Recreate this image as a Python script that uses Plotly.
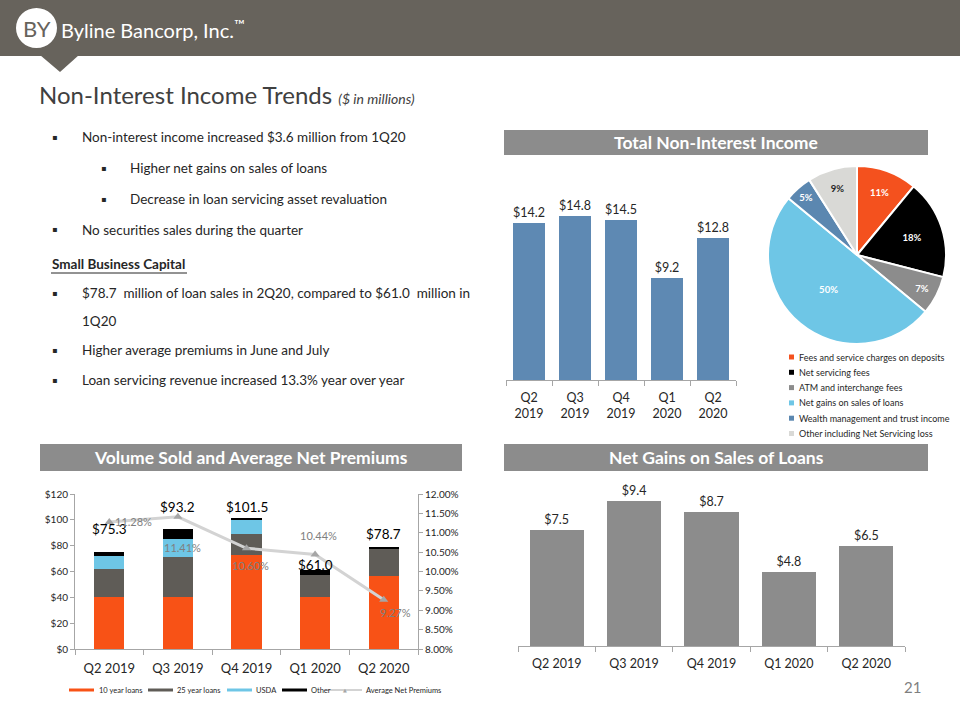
import plotly.graph_objects as go

# ---------------- data ----------------
quarters_stacked = ["Q2<br>2019", "Q3<br>2019", "Q4<br>2019", "Q1<br>2020", "Q2<br>2020"]
quarters = ["Q2 2019", "Q3 2019", "Q4 2019", "Q1 2020", "Q2 2020"]

total_nii = [14.2, 14.8, 14.5, 9.2, 12.8]

pie_labels = ["Fees and service charges on deposits", "Net servicing fees",
              "ATM and interchange fees", "Net gains on sales of loans",
              "Wealth management and trust income", "Other including Net Servicing loss"]
pie_values = [11, 18, 7, 50, 5, 9]

loans_10yr = [40.0, 40.0, 72.9, 40.0, 56.6]
loans_25yr = [21.8, 31.0, 16.3, 17.3, 21.0]
usda = [10.3, 14.5, 10.5, 0.0, 0.0]
other = [3.2, 7.7, 1.8, 3.7, 1.1]
volume_totals = [75.3, 93.2, 101.5, 61.0, 78.7]
avg_premiums = [11.28, 11.41, 10.60, 10.44, 9.27]

net_gains = [7.5, 9.4, 8.7, 4.8, 6.5]

bullets = [
    (1, "Non-interest income increased $3.6 million from 1Q20"),
    (2, "Higher net gains on sales of loans"),
    (2, "Decrease in loan servicing asset revaluation"),
    (1, "No securities sales during the quarter"),
]
sbc_bullets = [
    "$78.7  million of loan sales in 2Q20, compared to $61.0  million in",
    "Higher average premiums in June and July",
    "Loan servicing revenue increased 13.3% year over year",
]

# ---------------- styles ----------------
W, H = 960, 720
FONT = "Lato, 'Open Sans', sans-serif"
TXT = "#262626"
HEADER = "#67635C"
SEC = "#8C8C8C"
ORANGE = "#F85216"
DARKGRAY = "#5F5C57"
LIGHTBLUE = "#6EC6E6"
STEEL = "#5B87B0"


def px(x):
    return x / W


def py(y):
    return 1 - y / H


fig = go.Figure()

# ---- Total non-interest income bars ----
fig.add_trace(go.Bar(
    x=quarters_stacked, y=total_nii, marker_color="#5E89B3",
    text=["$%.1f" % v for v in total_nii], textposition="outside",
    textfont=dict(size=12.5, color=TXT, family=FONT), cliponaxis=False,
    xaxis="x", yaxis="y", showlegend=False))

# ---- Pie ----
pie_colors = ["#F4511E", "#000000", "#8C8C8C", LIGHTBLUE, STEEL, "#D9D9D6"]
pie_text_colors = ["white", "white", "white", "white", "white", "#262626"]
fig.add_trace(go.Pie(
    labels=pie_labels, values=pie_values, sort=False, direction="clockwise",
    rotation=0, marker=dict(colors=pie_colors, line=dict(color="white", width=2)),
    texttemplate="<b>%{value}%</b>", textposition="inside", insidetextorientation="horizontal",
    textfont=dict(size=9.5, color=pie_text_colors, family=FONT),
    domain=dict(x=[px(768), px(946)], y=[py(344), py(166)]),
    showlegend=False))

# ---- Volume sold stacked bars ----
vol_series = [("10 year loans", loans_10yr, ORANGE), ("25 year loans", loans_25yr, DARKGRAY),
              ("USDA", usda, LIGHTBLUE), ("Other", other, "#000000")]
for name, vals, col in vol_series:
    fig.add_trace(go.Bar(x=quarters, y=vals, name=name, marker_color=col, width=0.44,
                         xaxis="x2", yaxis="y2", showlegend=False))

fig.add_trace(go.Scatter(
    x=quarters, y=avg_premiums, name="Average Net Premiums", mode="lines+markers",
    line=dict(color="#D3D3D3", width=3),
    marker=dict(symbol="triangle-up", size=8, color="#A6A6A6"),
    xaxis="x2", yaxis="y3", showlegend=False))

# ---- Net gains bars ----
fig.add_trace(go.Bar(
    x=quarters, y=net_gains, marker_color="#8C8C8C",
    text=["$%.1f" % v for v in net_gains], textposition="outside",
    textfont=dict(size=12.5, color=TXT, family=FONT), cliponaxis=False,
    xaxis="x4", yaxis="y4", showlegend=False))

axis_line = "#A6A6A6"
cat_axis = dict(type="category", showline=True, linecolor=axis_line, ticks="outside",
                tickson="boundaries", ticklen=5, tickcolor=axis_line, showgrid=False,
                zeroline=False, automargin=False,
                tickfont=dict(size=12.5, color=TXT, family=FONT), fixedrange=True)

fig.update_layout(
    template="none",
    width=W, height=H, autosize=False,
    margin=dict(l=0, r=0, t=0, b=0, pad=0),
    paper_bgcolor="white", plot_bgcolor="rgba(0,0,0,0)",
    font=dict(family=FONT, color=TXT),
    showlegend=False,
    barmode="stack", bargap=0.3,
    xaxis=dict(cat_axis, domain=[px(506), px(736)], anchor="y", ticklabelstandoff=6),
    yaxis=dict(domain=[py(380), py(203)], range=[0, 16], visible=False, anchor="x",
               automargin=False),
    xaxis2=dict(cat_axis, domain=[px(75), px(418)], anchor="y2", ticklabelstandoff=7,
                tickfont=dict(size=13, color=TXT, family=FONT)),
    yaxis2=dict(domain=[py(649), py(494)], range=[0, 120], dtick=20, tickprefix="$",
                showline=True, linecolor=axis_line, ticks="outside", ticklen=4,
                tickcolor=axis_line, showgrid=False, zeroline=False, automargin=False,
                tickfont=dict(size=10, color=TXT, family=FONT), anchor="x2"),
    yaxis3=dict(domain=[py(649), py(494)], range=[8, 12], dtick=0.5, tickformat=".2f",
                ticksuffix="%", overlaying="y2", side="right", anchor="x2",
                showline=True, linecolor=axis_line, ticks="outside", ticklen=4,
                tickcolor=axis_line, showgrid=False, zeroline=False, automargin=False,
                tickfont=dict(size=10, color=TXT, family=FONT)),
    xaxis4=dict(cat_axis, domain=[px(518), px(905)], anchor="y4", ticklabelstandoff=6),
    yaxis4=dict(domain=[py(646), py(484)], range=[0, 10.5], visible=False, anchor="x4",
                automargin=False),
)

shapes = []
annotations = []


def ann(text, x, y, size, color=TXT, xanchor="left", **kw):
    d = dict(text=text, x=px(x), y=py(y), xref="paper", yref="paper", xanchor=xanchor,
             yanchor=kw.pop("yanchor", "middle"), showarrow=False,
             font=dict(size=size, color=color, family=kw.pop("family", FONT)))
    d.update(kw)
    annotations.append(d)


# header band + pointer
shapes.append(dict(type="rect", xref="paper", yref="paper", x0=0, x1=1, y0=py(56), y1=1,
                   fillcolor=HEADER, line=dict(width=0), layer="below"))
shapes.append(dict(type="path", xref="paper", yref="paper",
                   path="M%f,%f L%f,%f L%f,%f Z" % (px(40), py(55), px(79), py(55), px(60), py(72)),
                   fillcolor=HEADER, line=dict(width=0)))
# logo circle
shapes.append(dict(type="circle", xref="paper", yref="paper", x0=px(16), x1=px(57),
                   y0=py(48), y1=py(8), fillcolor="white", line=dict(width=0)))
ann("BY", 36.5, 28.5, 22, HEADER, xanchor="center")
ann("Byline Bancorp, Inc.<sup>™</sup>", 59, 29, 20, "white")

# title
ann("Non-Interest Income Trends <i><span style='font-size:14px'>($ in millions)</span></i>",
    37, 95, 24, "#404040")

# section headers
for (x0, x1, y0, y1, label) in [(504, 928, 130, 155, "Total Non-Interest Income"),
                                (40, 462, 444, 471, "Volume Sold and Average Net Premiums"),
                                (504, 928, 444, 471, "Net Gains on Sales of Loans")]:
    shapes.append(dict(type="rect", xref="paper", yref="paper", x0=px(x0), x1=px(x1),
                       y0=py(y1), y1=py(y0), fillcolor=SEC, line=dict(width=0)))
    ann("<b>%s</b>" % label, (x0 + x1) / 2, (y0 + y1) / 2, 17.5, "white", xanchor="center")

# left bullet text
ys = [137, 168, 199, 230]
for (lvl, t), yy in zip(bullets, ys):
    bx, tx = (50, 80) if lvl == 1 else (99, 128)
    ann("▪", bx, yy, 8, TXT, family="DejaVu Sans")
    ann(t, tx, yy, 13.5)
ann("<b>Small Business Capital</b>", 50, 264, 13.5)
shapes.append(dict(type="line", xref="paper", yref="paper", x0=px(51), x1=px(187),
                   y0=py(273), y1=py(273), line=dict(color=TXT, width=1)))
for t, yy in zip(sbc_bullets, [293, 350, 380]):
    ann("▪", 50, yy, 8, TXT, family="DejaVu Sans")
    ann(t, 80, yy, 13.5)
ann("1Q20", 80, 321, 13.5)

# pie legend (drawn manually)
for i, (lab, col) in enumerate(zip(pie_labels, pie_colors)):
    yy = 357 + i * 15.3
    shapes.append(dict(type="rect", xref="paper", yref="paper", x0=px(789), x1=px(794),
                       y0=py(yy + 2.5), y1=py(yy - 2.5), fillcolor=col, line=dict(width=0)))
    ann(lab, 797, yy, 9)

# volume legend (drawn manually)
leg_items = [("10 year loans", ORANGE, 69, 94, 97), ("25 year loans", DARKGRAY, 148, 173, 175),
             ("USDA", LIGHTBLUE, 227, 252, 254), ("Other", "#000000", 282, 307, 309)]
for lab, col, a, b, t in leg_items:
    shapes.append(dict(type="rect", xref="paper", yref="paper", x0=px(a), x1=px(b),
                       y0=py(691.5), y1=py(688.5), fillcolor=col, line=dict(width=0)))
    ann(lab, t, 690, 7.5)
shapes.append(dict(type="line", xref="paper", yref="paper", x0=px(327), x1=px(362),
                   y0=py(690), y1=py(690), line=dict(color="#D3D3D3", width=2)))
ann("▲", 345, 689.5, 5, "#A6A6A6", xanchor="center", family="DejaVu Sans")
ann("Average Net Premiums", 364, 690, 7.5)

# volume totals labels
total_shift = [23, 22, 11, 5, 13]
for q, v, s in zip(quarters, volume_totals, total_shift):
    annotations.append(dict(text="$%.1f" % v, x=q, y=v, xref="x2", yref="y2", yshift=s,
                            xanchor="center", yanchor="middle",
                            showarrow=False, font=dict(size=13.5, color="#000000", family=FONT)))
# premium labels
prem_shift = [(24, 0), (5, -31), (4, -17), (3, 19), (12, -13)]
for q, v, (sx, sy) in zip(quarters, avg_premiums, prem_shift):
    annotations.append(dict(text="%.2f%%" % v, x=q, y=v, xref="x2", yref="y3",
                            xshift=sx, yshift=sy, xanchor="center", yanchor="middle",
                            showarrow=False,
                            font=dict(size=11, color="#7F7F7F", family=FONT)))

# page number
ann("21", 912, 687, 15, "#7F7F7F", xanchor="center")

fig.update_layout(shapes=shapes, annotations=annotations)
fig.write_html("out.html", config={"displayModeBar": False},
               post_script="document.body.style.margin='0';")
